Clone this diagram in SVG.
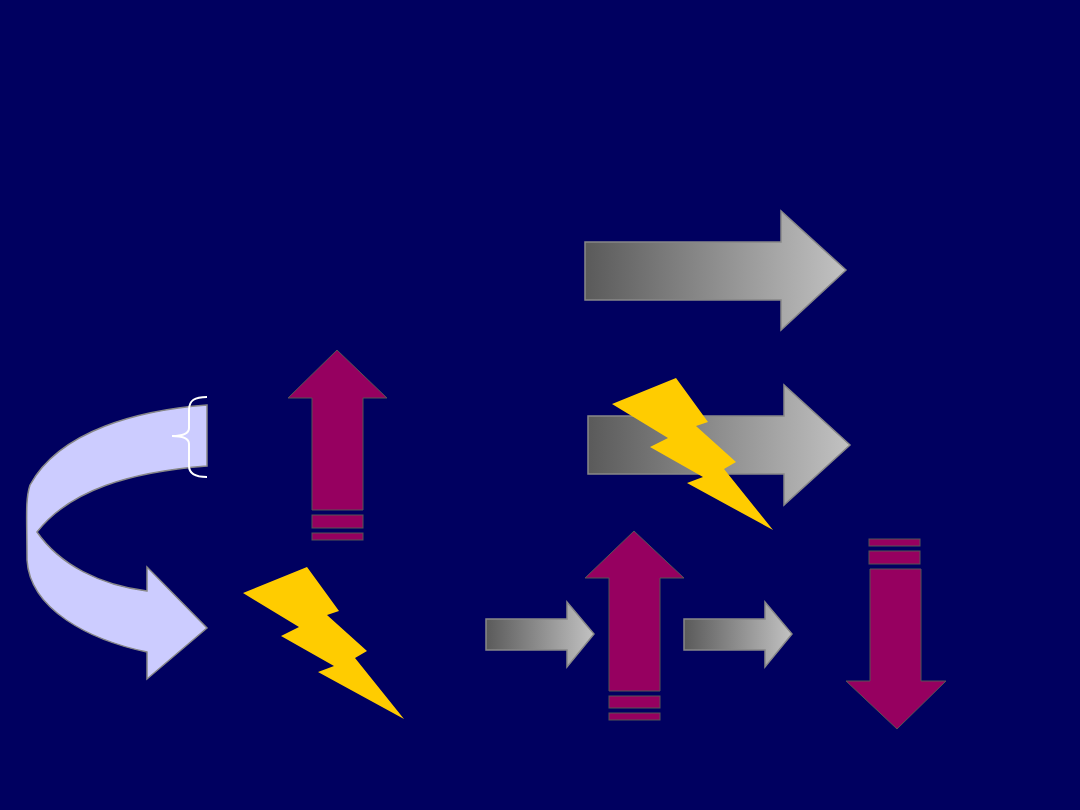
<svg xmlns="http://www.w3.org/2000/svg" width="1080" height="810" viewBox="0 0 1080 810">
<defs>
<linearGradient id="g" x1="0" y1="0" x2="1" y2="0"><stop offset="0" stop-color="#5a5a5a"/><stop offset="1" stop-color="#c2c2c2"/></linearGradient>
<style>.gr{fill:url(#g);stroke:#888;stroke-width:1.5}.pu{fill:#960060;stroke:#555;stroke-width:1}.bo{fill:#ffcc00}</style>
</defs>
<rect width="1080" height="810" fill="#000060"/>
<g id="curved"><path d="M207,405 C140,410 60,430 30,485 C25,500 27,520 27,560 C30,610 90,640 147,652 L147,679 L207,628 L147,567 L147,591 C100,585 60,565 37,532 C70,490 130,472 207,466 Z" fill="#ccccff" stroke="#888" stroke-width="1.5"/></g>
<g id="brace"><path d="M207,397 C195,397 189,400 189,410 L189,428 C189,433 183,436 172,436 C183,436 189,439 189,444 L189,466 C189,474 195,477 207,477" fill="none" stroke="#fff" stroke-width="2"/></g>
<g id="up1"><path class="pu" d="M337,350 L387,398 L363,398 L363,510 L312,510 L312,398 L288,398 Z"/><rect class="pu" x="312" y="515" width="51" height="13"/><rect class="pu" x="312" y="533" width="51" height="7"/></g>
<g id="up2"><path class="pu" d="M634,531 L684,578 L660,578 L660,691 L609,691 L609,578 L585,578 Z"/><rect class="pu" x="609" y="696" width="51" height="12"/><rect class="pu" x="609" y="713" width="51" height="7"/></g>
<g id="down"><rect class="pu" x="869" y="539" width="51" height="7"/><rect class="pu" x="869" y="551" width="51" height="13"/><path class="pu" d="M870,569 L921,569 L921,681 L946,681 L897,729 L846,681 L870,681 Z"/></g>
<g id="gray1"><path class="gr" d="M585,242 L781,242 L781,211 L846,270 L781,330 L781,300 L585,300 Z"/></g>
<g id="gray2"><path class="gr" d="M588,416 L784,416 L784,385 L850,445 L784,505 L784,474 L588,474 Z"/></g>
<g id="gray3"><path class="gr" d="M486,619 L567,619 L567,602 L594,634 L567,667 L567,650 L486,650 Z"/></g>
<g id="gray4"><path class="gr" d="M684,619 L765,619 L765,602 L792,634 L765,667 L765,650 L684,650 Z"/></g>
<g id="bolt2"><path class="bo" d="M612,404 L676,378 L708,422 L696,426 L736,462 L724,469 L773,530 L687,483 L703,477 L650,447 L668,438 Z"/></g>
<g id="bolt1"><path class="bo" transform="translate(-369,189)" d="M612,404 L676,378 L708,422 L696,426 L736,462 L724,469 L773,530 L687,483 L703,477 L650,447 L668,438 Z"/></g>
<g id="connectors"></g>
</svg>
